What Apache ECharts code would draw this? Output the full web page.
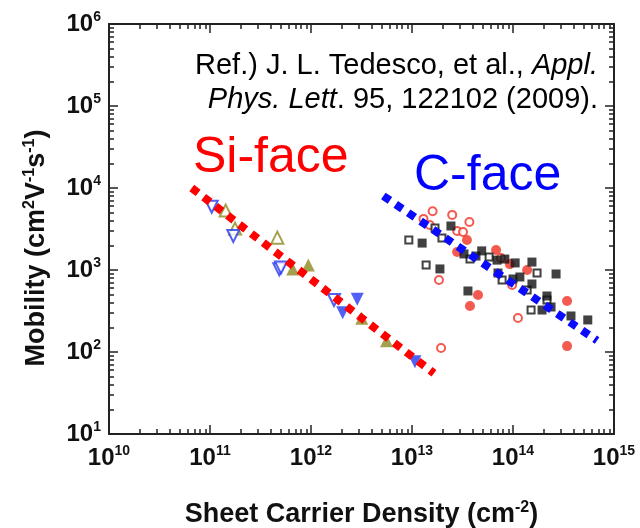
<!DOCTYPE html>
<html>
<head>
<meta charset="utf-8">
<script src="https://cdn.jsdelivr.net/npm/echarts@6/dist/echarts.min.js"></script>
<style>
  html, body { margin: 0; padding: 0; background: #fff; }
  #main { width: 640px; height: 528px; }
</style>
</head>
<body>
<div id="main"></div>
<script>
// 坐标轴刻度
var xTicks = [1e10, 1e11, 1e12, 1e13, 1e14, 1e15];
var yTicks = [1e1, 1e2, 1e3, 1e4, 1e5, 1e6];

// Si-face
var siBlueOpen = [[1.04e11, 5900], [1.70e11, 2600], [4.85e11, 1020], [5.05e11, 1070], [1.69e12, 430]];
var siBlueFill = [[2.87e12, 440], [2.06e12, 301], [1.07e13, 76]];
var siOliveOpen = [[1.43e11, 5300], [1.77e11, 3200], [4.64e11, 2480]];
var siOliveFill = [[9.4e11, 1150], [6.6e11, 1030], [3.18e12, 258], [5.6e12, 137]];

// C-face
var cRedOpen = [[1.6e13, 5200], [1.3e13, 4200], [2.5e13, 4700], [3.7e13, 3850], [2.8e13, 2990], [3.2e13, 2900],
  [1.5e13, 3540], [1.85e13, 755], [7.6e13, 1400], [9.8e13, 656], [1.12e14, 260], [1.94e13, 112]];
var cRedFill = [[3.5e13, 2320], [2.8e13, 1660], [6.8e13, 1750], [9.3e13, 1180], [1.38e14, 1000], [4.5e13, 496],
  [3.75e13, 364], [3.43e14, 419], [3.43e14, 118]];
var cBlackOpen = [[9.3e12, 2320], [1.38e13, 1150], [1.69e13, 3250], [1.98e13, 2460], [3.75e13, 1360], [5.8e13, 1440],
  [7.8e13, 755], [1.73e14, 919], [1.38e14, 570], [2.17e14, 431], [1.51e14, 325]];
var cBlackFill = [[1.26e13, 2130], [1.89e13, 1030], [2.43e13, 3440], [3.27e13, 1570], [4.9e13, 1710], [4.3e13, 1480],
  [6.95e13, 1320], [8.3e13, 1360], [1.05e14, 1220], [1.54e14, 1250], [7.1e13, 919], [1.0e14, 777], [1.17e14, 822],
  [1.54e14, 675], [3.58e13, 555], [2.17e14, 482], [2.38e14, 354], [1.94e14, 325], [2.67e14, 894], [3.75e14, 275],
  [5.5e14, 246]];

// 拟合线
var siLine = [[6.6e10, 1.0e4], [1.65e13, 55]];
var cLine = [[5.2e12, 8.0e3], [6.8e14, 138]];

var FONT = "'Liberation Sans', Arial, sans-serif";

// 对数轴次刻度 2..9
function minorOf(ticks) {
  var out = [];
  for (var i = 0; i < ticks.length - 1; i++) {
    for (var k = 2; k <= 9; k++) out.push(ticks[i] * k);
  }
  return out;
}

var labelRich = {
  b: { fontSize: 24, fontWeight: 'bold', fontFamily: FONT, color: '#111', lineHeight: 28 },
  s: { fontSize: 14, fontWeight: 'bold', fontFamily: FONT, color: '#111', lineHeight: 14, verticalAlign: 'top' }
};
function powLabel(v) {
  return '{b|10}{s|' + Math.round(Math.log10(v)) + '}';
}

function axis(pos, ticks, major, show) {
  var isX = pos === 'bottom' || pos === 'top';
  var tick = {
    show: true, inside: true, length: major ? 9 : 5,
    lineStyle: { color: '#222', width: 1.5 }
  };
  if (!major) tick.customValues = minorOf(ticks);
  return {
    type: 'log',
    position: pos,
    min: ticks[0],
    max: ticks[ticks.length - 1],
    logBase: 10,
    splitNumber: ticks.length - 1,
    axisLine: { show: major, onZero: false, lineStyle: { color: '#222', width: 2 } },
    axisTick: tick,
    axisLabel: {
      show: show, formatter: powLabel, rich: labelRich,
      showMinLabel: true, showMaxLabel: true, hideOverlap: false,
      margin: isX ? 10 : 8
    },
    splitLine: { show: false }
  };
}

var xAxes = [axis('bottom', xTicks, true, true), axis('top', xTicks, true, false),
  axis('bottom', xTicks, false, false), axis('top', xTicks, false, false)];
var yAxes = [axis('left', yTicks, true, true), axis('right', yTicks, true, false),
  axis('left', yTicks, false, false), axis('right', yTicks, false, false)];

xAxes[0].name = '{t|Sheet Carrier Density (cm}{u|-2}{t|)}';
xAxes[0].nameLocation = 'middle';
xAxes[0].nameGap = 66;
xAxes[0].nameTextStyle = {
  rich: {
    t: { fontSize: 27, fontWeight: 'bold', fontFamily: FONT, color: '#111', lineHeight: 30 },
    u: { fontSize: 16, fontWeight: 'bold', fontFamily: FONT, color: '#111', lineHeight: 16, verticalAlign: 'top' }
  }
};
yAxes[0].name = '{t|Mobility (cm}{u|2}{t|V}{u|-1}{t|s}{u|-1}{t|)}';
yAxes[0].nameLocation = 'middle';
yAxes[0].nameGap = 57;
yAxes[0].nameTextStyle = {
  padding: [0, 38, 0, 0],
  rich: xAxes[0].nameTextStyle.rich
};

function scatter(data, symbol, size, color, open, rotate) {
  return {
    type: 'scatter',
    data: data,
    symbol: symbol,
    symbolSize: size,
    symbolRotate: rotate || 0,
    z: 2,
    itemStyle: open
      ? { color: '#fff', borderColor: color, borderWidth: 2 }
      : { color: color },
    emphasis: { disabled: true }
  };
}

function dotLine(data, color) {
  return {
    type: 'line',
    data: data,
    showSymbol: false,
    z: 4,
    lineStyle: { color: color, width: 8, type: [8, 7], cap: 'butt' },
    emphasis: { disabled: true }
  };
}

var myChart = echarts.init(document.getElementById('main'));
var option = {
  animation: false,
  backgroundColor: '#fff',
  grid: { left: 109, top: 24, right: 26, bottom: 94, containLabel: false, outerBoundsMode: 'none' },
  xAxis: xAxes,
  yAxis: yAxes,
  graphic: [
    {
      type: 'text', x: 598, y: 66, z: 10,
      style: {
        text: '{n|Ref.) J. L. Tedesco, et al., }{i|Appl.}',
        align: 'right', verticalAlign: 'middle',
        rich: {
          n: { fontSize: 29, fontFamily: FONT, fill: '#000' },
          i: { fontSize: 29, fontFamily: FONT, fontStyle: 'italic', fill: '#000' }
        }
      }
    },
    {
      type: 'text', x: 598, y: 100, z: 10,
      style: {
        text: '{i|Phys. Lett}{n|. 95, 122102 (2009).}',
        align: 'right', verticalAlign: 'middle',
        rich: {
          n: { fontSize: 29, fontFamily: FONT, fill: '#000' },
          i: { fontSize: 29, fontFamily: FONT, fontStyle: 'italic', fill: '#000' }
        }
      }
    },
    {
      type: 'text', x: 193, y: 158, z: 10,
      style: { text: 'Si-face', font: '50px ' + FONT, fill: '#ff0000', verticalAlign: 'middle' }
    },
    {
      type: 'text', x: 414, y: 176, z: 10,
      style: { text: 'C-face', font: '50px ' + FONT, fill: '#0000ff', verticalAlign: 'middle' }
    }
  ],
  series: [
    scatter(siOliveOpen, 'triangle', 12, '#8c8a1e', true),
    scatter(siOliveFill, 'triangle', 13, '#8c8a1e', false),
    scatter(siBlueOpen, 'triangle', 12, '#2438f0', true, 180),
    scatter(siBlueFill, 'triangle', 13, '#2438f0', false, 180),
    scatter(cRedOpen, 'circle', 8, '#f03224', true),
    scatter(cRedFill, 'circle', 10, '#f03224', false),
    scatter(cBlackOpen, 'rect', 7, '#111', true),
    scatter(cBlackFill, 'rect', 9, '#111', false),
    dotLine(siLine, '#ff0000'),
    dotLine(cLine, '#0a0aff')
  ]
};
myChart.setOption(option);
</script>
</body>
</html>
